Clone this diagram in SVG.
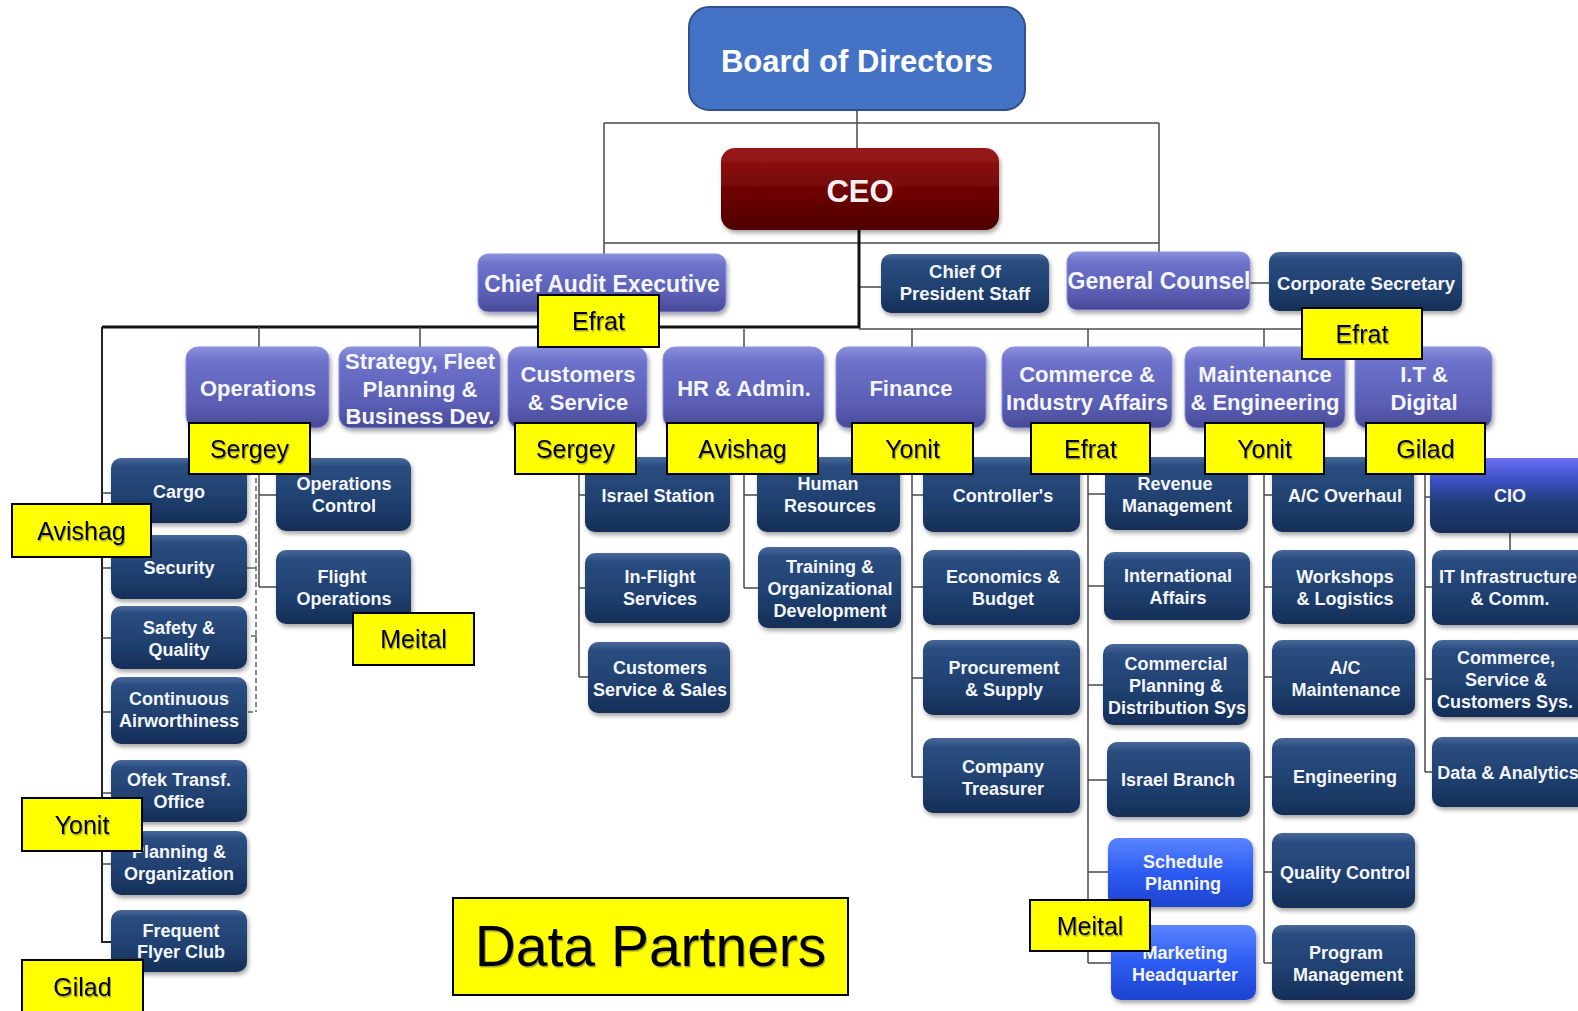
<svg xmlns="http://www.w3.org/2000/svg" width="1578" height="1011" viewBox="0 0 1578 1011">
  <style>
    .ln{fill:none;stroke:#4a4a4a;stroke-width:1.5}
    .thk{fill:none;stroke:#111;stroke-width:3}
    .dash{fill:none;stroke:#666;stroke-width:1.5;stroke-dasharray:5 3}
    .nv rect{fill:url(#gNavy);filter:url(#sh)}
    .pu rect{fill:url(#gPurple);stroke:#8d91dc;stroke-width:1;filter:url(#sh)}
    .bb rect{fill:url(#gBright);filter:url(#sh)}
    .t4{font-family:"Liberation Sans",Arial,sans-serif;font-weight:bold;font-size:18px;fill:#f4f6fb;text-anchor:middle}
    .t3{font-family:"Liberation Sans",Arial,sans-serif;font-weight:bold;font-size:22px;fill:#f4f6fb;text-anchor:middle}
    .t2{font-family:"Liberation Sans",Arial,sans-serif;font-weight:bold;font-size:23px;fill:#f4f6fb;text-anchor:middle}
    .t2s{font-family:"Liberation Sans",Arial,sans-serif;font-weight:bold;font-size:18.5px;fill:#f4f6fb;text-anchor:middle}
    .lab rect{fill:#ffff00;stroke:#000;stroke-width:2}
    .lab text{font-family:"Liberation Sans",Arial,sans-serif;font-size:25px;fill:#000;text-anchor:middle;filter:url(#ts)}
  </style>
  <defs>
    <linearGradient id="gNavy" x1="0" y1="0" x2="0" y2="1">
      <stop offset="0" stop-color="#48699a"/>
      <stop offset="0.12" stop-color="#2b4d80"/>
      <stop offset="0.6" stop-color="#1f406f"/>
      <stop offset="1" stop-color="#152e57"/>
    </linearGradient>
    <linearGradient id="gPurple" x1="0" y1="0" x2="0" y2="1">
      <stop offset="0" stop-color="#8a8fdd"/>
      <stop offset="0.18" stop-color="#6d72ca"/>
      <stop offset="0.7" stop-color="#5a5eb4"/>
      <stop offset="1" stop-color="#484a96"/>
    </linearGradient>
    <linearGradient id="gBright" x1="0" y1="0" x2="0" y2="1">
      <stop offset="0" stop-color="#5a84ff"/>
      <stop offset="0.5" stop-color="#2d5cf2"/>
      <stop offset="1" stop-color="#1c43cf"/>
    </linearGradient>
    <linearGradient id="gCio" x1="0" y1="0" x2="0" y2="1">
      <stop offset="0" stop-color="#6c70f5"/>
      <stop offset="0.3" stop-color="#3b4fc2"/>
      <stop offset="0.6" stop-color="#1f3d75"/>
      <stop offset="1" stop-color="#172e59"/>
    </linearGradient>
    <linearGradient id="gCeo" x1="0" y1="0" x2="0" y2="1">
      <stop offset="0" stop-color="#9c1818"/>
      <stop offset="0.5" stop-color="#700505"/>
      <stop offset="1" stop-color="#4e0000"/>
    </linearGradient>
    <filter id="sh" x="-10%" y="-10%" width="125%" height="140%">
      <feDropShadow dx="1.5" dy="3" stdDeviation="2" flood-color="#000" flood-opacity="0.35"/>
    </filter>
    <filter id="ts" x="-10%" y="-20%" width="130%" height="150%">
      <feDropShadow dx="1" dy="1.5" stdDeviation="0.6" flood-color="#555" flood-opacity="0.55"/>
    </filter>
  </defs>

  <rect width="1578" height="1011" fill="#fff"/>

  <!-- connectors -->
  <g id="connectors">
    <path class="ln" d="M857 110V149M604 123H1159M604 123V254M1159 123V253M604 243H1159M859 287H881M1250 283H1269"/>
    <path class="thk" d="M859 229V327H102"/>
    <path class="ln" style="stroke:#222;stroke-width:2" d="M102 327V942H111"/>
    <path class="ln" d="M102 493H111M102 568H111M102 638H111M102 712H111M102 793H111M102 864H111"/>
    <path class="ln" d="M859 329H1420"/>
    <path class="ln" d="M259 327V347M420 327V347M579 327V348M744 329V347M912 329V347M1088 329V347M1264 329V347M1420 329V347"/>
    <path class="ln" d="M259 428V587M259 495H276M259 587H276"/>
    <path class="dash" d="M256 470V712M248 712H256"/>
    <path class="ln" style="stroke:#666" d="M247 568H256M251 636H256V642"/>
    <path class="ln" d="M579 428V677M579 495H585M579 588H585M579 677H588"/>
    <path class="ln" d="M744 428V588M744 495H757M744 588H758"/>
    <path class="ln" d="M912 428V777M912 495H923M912 587H923M912 678H923M912 777H923"/>
    <path class="ln" d="M1088 428V963M1088 494H1105M1088 586H1104M1088 685H1103M1088 780H1107M1088 872H1108M1088 963H1111"/>
    <path class="ln" d="M1264 428V963M1264 495H1272M1264 587H1272M1264 677H1272M1264 777H1272M1264 872H1272M1264 963H1272"/>
    <path class="ln" d="M1425 428V772M1425 497H1430M1425 587H1432M1425 679H1432M1425 772H1432M1510 533V550"/>
  </g>

  <!-- top of the chart -->
  <g id="board">
    <rect x="689" y="7" width="336" height="103" rx="20" fill="#4472c4" stroke="#2f528f" stroke-width="2"/>
    <text x="857" y="72" font-family="Liberation Sans,Arial,sans-serif" font-weight="bold" font-size="31" fill="#fff" text-anchor="middle">Board of Directors</text>
  </g>
  <g id="ceo">
    <rect x="721" y="148" width="278" height="82" rx="14" fill="url(#gCeo)" filter="url(#sh)"/>
    <text x="860" y="202" font-family="Liberation Sans,Arial,sans-serif" font-weight="bold" font-size="31" fill="#f6f0f0" text-anchor="middle">CEO</text>
  </g>

  <!-- level 2 -->
  <g id="chief-audit" class="pu"><rect x="478" y="254" width="248" height="58" rx="10"/><text class="t2" x="602" y="292">Chief Audit Executive</text></g>
  <g id="chief-staff" class="nv"><rect x="881" y="254" width="168" height="59" rx="10"/><text class="t2s" x="965"><tspan x="965" y="278">Chief Of</tspan><tspan x="965" y="300">President Staff</tspan></text></g>
  <g id="general-counsel" class="pu"><rect x="1067" y="252" width="183" height="58" rx="10"/><text class="t2" x="1159" y="289">General Counsel</text></g>
  <g id="corporate-secretary" class="nv"><rect x="1269" y="252" width="193" height="59" rx="10"/><text class="t2s" x="1366" y="289.5">Corporate Secretary</text></g>

  <!-- level 3: divisions -->
  <g id="operations" class="pu"><rect x="186" y="347" width="143" height="81" rx="12"/><text class="t3" x="258" y="396">Operations</text></g>
  <g id="strategy" class="pu"><rect x="339" y="347" width="161" height="81" rx="12"/><text class="t3"><tspan x="420" y="369">Strategy, Fleet</tspan><tspan x="420" y="397">Planning &amp;</tspan><tspan x="420" y="424">Business Dev.</tspan></text></g>
  <g id="customers-service" class="pu"><rect x="508" y="347" width="139" height="81" rx="12"/><text class="t3"><tspan x="578" y="382">Customers</tspan><tspan x="578" y="410">&amp; Service</tspan></text></g>
  <g id="hr-admin" class="pu"><rect x="663" y="347" width="161" height="81" rx="12"/><text class="t3" x="744" y="396">HR &amp; Admin.</text></g>
  <g id="finance" class="pu"><rect x="836" y="347" width="150" height="81" rx="12"/><text class="t3" x="911" y="396">Finance</text></g>
  <g id="commerce" class="pu"><rect x="1002" y="347" width="170" height="81" rx="12"/><text class="t3"><tspan x="1087" y="382">Commerce &amp;</tspan><tspan x="1087" y="410">Industry Affairs</tspan></text></g>
  <g id="maintenance" class="pu"><rect x="1185" y="347" width="160" height="81" rx="12"/><text class="t3"><tspan x="1265" y="382">Maintenance</tspan><tspan x="1265" y="410">&amp; Engineering</tspan></text></g>
  <g id="it-digital" class="pu"><rect x="1355" y="347" width="137" height="81" rx="12"/><text class="t3"><tspan x="1424" y="382">I.T &amp;</tspan><tspan x="1424" y="410">Digital</tspan></text></g>

  <!-- operations units -->
  <g id="cargo" class="nv"><rect x="111" y="458" width="136" height="65" rx="10"/><text class="t4" x="179" y="498">Cargo</text></g>
  <g id="security" class="nv"><rect x="111" y="535" width="136" height="64" rx="10"/><text class="t4" x="179" y="574">Security</text></g>
  <g id="safety" class="nv"><rect x="111" y="606" width="136" height="63" rx="10"/><text class="t4"><tspan x="179" y="633.5">Safety &amp;</tspan><tspan x="179" y="655.5">Quality</tspan></text></g>
  <g id="airworthiness" class="nv"><rect x="111" y="677" width="136" height="67" rx="10"/><text class="t4"><tspan x="179" y="704.5">Continuous</tspan><tspan x="179" y="727">Airworthiness</tspan></text></g>
  <g id="ofek" class="nv"><rect x="111" y="760" width="136" height="62" rx="10"/><text class="t4"><tspan x="179" y="786">Ofek Transf.</tspan><tspan x="179" y="808">Office</tspan></text></g>
  <g id="planning-org" class="nv"><rect x="111" y="831" width="136" height="64" rx="10"/><text class="t4"><tspan x="179" y="858">Planning &amp;</tspan><tspan x="179" y="880">Organization</tspan></text></g>
  <g id="frequent-flyer" class="nv"><rect x="111" y="910" width="136" height="62" rx="10"/><text class="t4"><tspan x="181" y="937">Frequent</tspan><tspan x="181" y="958">Flyer Club</tspan></text></g>
  <g id="ops-control" class="nv"><rect x="276" y="458" width="135" height="73" rx="10"/><text class="t4"><tspan x="344" y="489.5">Operations</tspan><tspan x="344" y="511.5">Control</tspan></text></g>
  <g id="flight-ops" class="nv"><rect x="276" y="550" width="135" height="74" rx="10"/><text class="t4"><tspan x="342" y="583">Flight</tspan><tspan x="344" y="605">Operations</tspan></text></g>

  <!-- customers & service units -->
  <g id="israel-station" class="nv"><rect x="585" y="457" width="145" height="75" rx="10"/><text class="t4" x="658" y="501.5">Israel Station</text></g>
  <g id="inflight" class="nv"><rect x="585" y="553" width="145" height="70" rx="10"/><text class="t4"><tspan x="660" y="583">In-Flight</tspan><tspan x="660" y="605">Services</tspan></text></g>
  <g id="cust-sales" class="nv"><rect x="588" y="642" width="142" height="71" rx="10"/><text class="t4"><tspan x="660" y="673.5">Customers</tspan><tspan x="660" y="695.5">Service &amp; Sales</tspan></text></g>

  <!-- hr units -->
  <g id="human-resources" class="nv"><rect x="757" y="457" width="143" height="75" rx="10"/><text class="t4"><tspan x="828" y="489.5">Human</tspan><tspan x="830" y="511.5">Resources</tspan></text></g>
  <g id="training" class="nv"><rect x="758" y="547" width="143" height="81" rx="10"/><text class="t4"><tspan x="830" y="573">Training &amp;</tspan><tspan x="830" y="594.5">Organizational</tspan><tspan x="830" y="616.5">Development</tspan></text></g>

  <!-- finance units -->
  <g id="controllers" class="nv"><rect x="923" y="457" width="157" height="75" rx="10"/><text class="t4" x="1003" y="501.5">Controller's</text></g>
  <g id="economics" class="nv"><rect x="923" y="550" width="157" height="75" rx="10"/><text class="t4"><tspan x="1003" y="583">Economics &amp;</tspan><tspan x="1003" y="605">Budget</tspan></text></g>
  <g id="procurement" class="nv"><rect x="923" y="640" width="157" height="75" rx="10"/><text class="t4"><tspan x="1004" y="673.5">Procurement</tspan><tspan x="1004" y="695.5">&amp; Supply</tspan></text></g>
  <g id="treasurer" class="nv"><rect x="923" y="738" width="157" height="75" rx="10"/><text class="t4"><tspan x="1003" y="773">Company</tspan><tspan x="1003" y="794.5">Treasurer</tspan></text></g>

  <!-- commerce units -->
  <g id="revenue" class="nv"><rect x="1105" y="457" width="143" height="73" rx="10"/><text class="t4"><tspan x="1175" y="489.5">Revenue</tspan><tspan x="1177" y="511.5">Management</tspan></text></g>
  <g id="international" class="nv"><rect x="1104" y="552" width="146" height="68" rx="10"/><text class="t4"><tspan x="1178" y="582">International</tspan><tspan x="1178" y="604">Affairs</tspan></text></g>
  <g id="commercial-planning" class="nv"><rect x="1103" y="644" width="145" height="81" rx="10"/><text class="t4"><tspan x="1176" y="669.5">Commercial</tspan><tspan x="1176" y="691.5">Planning &amp;</tspan><tspan x="1177" y="713.5">Distribution Sys</tspan></text></g>
  <g id="israel-branch" class="nv"><rect x="1107" y="742" width="143" height="75" rx="10"/><text class="t4" x="1178" y="786">Israel Branch</text></g>
  <g id="schedule" class="bb"><rect x="1108" y="838" width="145" height="69" rx="10"/><text class="t4"><tspan x="1183" y="868">Schedule</tspan><tspan x="1183" y="890">Planning</tspan></text></g>
  <g id="marketing" class="bb"><rect x="1111" y="925" width="145" height="75" rx="10"/><text class="t4"><tspan x="1185" y="958.5">Marketing</tspan><tspan x="1185" y="980.5">Headquarter</tspan></text></g>

  <!-- maintenance units -->
  <g id="overhaul" class="nv"><rect x="1272" y="457" width="142" height="75" rx="10"/><text class="t4" x="1345" y="501.5">A/C Overhaul</text></g>
  <g id="workshops" class="nv"><rect x="1272" y="550" width="143" height="74" rx="10"/><text class="t4"><tspan x="1345" y="583">Workshops</tspan><tspan x="1345" y="605">&amp; Logistics</tspan></text></g>
  <g id="ac-maintenance" class="nv"><rect x="1272" y="640" width="143" height="75" rx="10"/><text class="t4"><tspan x="1345" y="673.5">A/C</tspan><tspan x="1346" y="695.5">Maintenance</tspan></text></g>
  <g id="engineering" class="nv"><rect x="1272" y="738" width="143" height="77" rx="10"/><text class="t4" x="1345" y="783">Engineering</text></g>
  <g id="quality-control" class="nv"><rect x="1272" y="833" width="143" height="75" rx="10"/><text class="t4" x="1345" y="879">Quality Control</text></g>
  <g id="program" class="nv"><rect x="1272" y="925" width="143" height="75" rx="10"/><text class="t4"><tspan x="1346" y="958.5">Program</tspan><tspan x="1348" y="980.5">Management</tspan></text></g>

  <!-- it units -->
  <g id="cio"><rect x="1430" y="458" width="170" height="75" rx="10" fill="url(#gCio)" filter="url(#sh)"/><text class="t4" x="1510" y="501.5">CIO</text></g>
  <g id="it-infra" class="nv"><rect x="1432" y="550" width="170" height="75" rx="10"/><text class="t4"><tspan x="1508" y="583">IT Infrastructure</tspan><tspan x="1510" y="605">&amp; Comm.</tspan></text></g>
  <g id="commerce-sys" class="nv"><rect x="1432" y="640" width="170" height="77" rx="10"/><text class="t4"><tspan x="1506" y="663.5">Commerce,</tspan><tspan x="1506" y="685.5">Service &amp;</tspan><tspan x="1505" y="707.5">Customers Sys.</tspan></text></g>
  <g id="data-analytics" class="nv"><rect x="1432" y="737" width="170" height="70" rx="10"/><text class="t4" x="1508" y="778.5">Data &amp; Analytics</text></g>

  <!-- name tags -->
  <g id="tag-efrat-1" class="lab"><rect x="538" y="295" width="121" height="52"/><text x="598.5" y="330">Efrat</text></g>
  <g id="tag-efrat-2" class="lab"><rect x="1302" y="308" width="120" height="51"/><text x="1362" y="342.5">Efrat</text></g>
  <g id="tag-sergey-1" class="lab"><rect x="189" y="423" width="121" height="51"/><text x="249.5" y="457.5">Sergey</text></g>
  <g id="tag-sergey-2" class="lab"><rect x="515" y="423" width="121" height="51"/><text x="575.5" y="457.5">Sergey</text></g>
  <g id="tag-avishag-1" class="lab"><rect x="667" y="423" width="151" height="51"/><text x="742.5" y="457.5">Avishag</text></g>
  <g id="tag-yonit-1" class="lab"><rect x="852" y="423" width="121" height="51"/><text x="912.5" y="457.5">Yonit</text></g>
  <g id="tag-efrat-3" class="lab"><rect x="1031" y="423" width="119" height="51"/><text x="1090.5" y="457.5">Efrat</text></g>
  <g id="tag-yonit-2" class="lab"><rect x="1205" y="423" width="119" height="51"/><text x="1264.5" y="457.5">Yonit</text></g>
  <g id="tag-gilad-1" class="lab"><rect x="1366" y="423" width="119" height="51"/><text x="1425.5" y="457.5">Gilad</text></g>
  <g id="tag-avishag-2" class="lab"><rect x="12" y="504" width="139" height="53"/><text x="81.5" y="539.5">Avishag</text></g>
  <g id="tag-meital-1" class="lab"><rect x="353" y="613" width="121" height="52"/><text x="413.5" y="648">Meital</text></g>
  <g id="tag-yonit-3" class="lab"><rect x="22" y="798" width="120" height="53"/><text x="82" y="833.5">Yonit</text></g>
  <g id="tag-gilad-2" class="lab"><rect x="22" y="960" width="121" height="60"/><text x="82.5" y="996">Gilad</text></g>
  <g id="tag-meital-2" class="lab"><rect x="1030" y="900" width="120" height="51"/><text x="1090" y="934.5">Meital</text></g>
  <g id="tag-data-partners" class="lab"><rect x="453" y="898" width="395" height="97"/><text x="650.5" y="966" style="font-size:57px">Data Partners</text></g>
</svg>
